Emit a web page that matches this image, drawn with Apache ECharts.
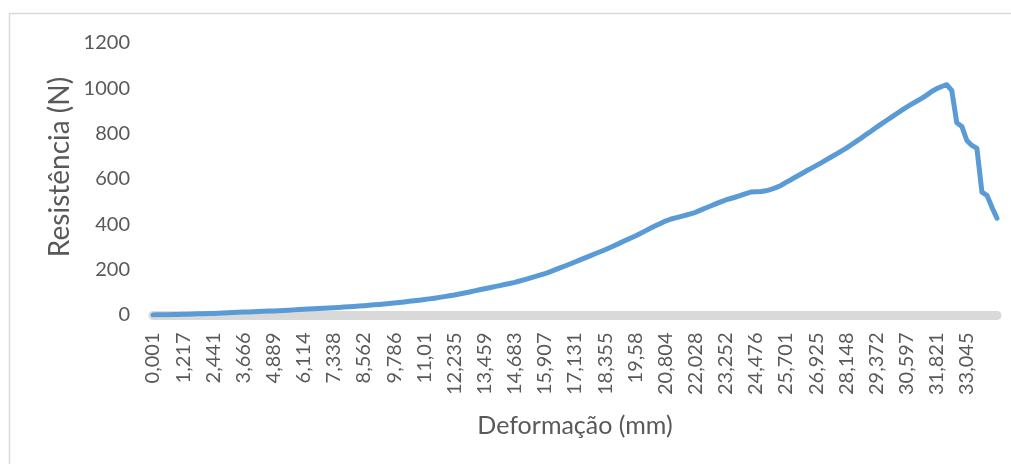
<!DOCTYPE html>
<html>
<head>
<meta charset="utf-8">
<script src="https://cdn.jsdelivr.net/npm/echarts@6/dist/echarts.min.js"></script>
<style>
  html, body { margin: 0; padding: 0; background: #ffffff; }
  #chart { width: 1011px; height: 464px; }
</style>
</head>
<body>
<div id="chart"></div>
<script>
// Deformação (mm) de cada leitura do ensaio
const deformacao = [
  '0,001','0,205','0,408','0,611','0,813','1,015','1,217','1,421','1,625','1,829',
  '2,033','2,237','2,441','2,645','2,849','3,054','3,258','3,462','3,666','3,869',
  '4,073','4,277','4,481','4,685','4,889','5,093','5,297','5,502','5,706','5,91',
  '6,114','6,318','6,522','6,726','6,93','7,134','7,338','7,542','7,746','7,95',
  '8,154','8,358','8,562','8,766','8,97','9,174','9,378','9,582','9,786','9,99',
  '10,194','10,398','10,602','10,806','11,01','11,214','11,418','11,623','11,827','12,031',
  '12,235','12,439','12,643','12,847','13,051','13,255','13,459','13,663','13,867','14,071',
  '14,275','14,479','14,683','14,887','15,091','15,295','15,499','15,703','15,907','16,111',
  '16,315','16,519','16,723','16,927','17,131','17,335','17,539','17,743','17,947','18,151',
  '18,355','18,559','18,763','18,968','19,172','19,376','19,58','19,784','19,988','20,192',
  '20,396','20,6','20,804','21,008','21,212','21,416','21,62','21,824','22,028','22,232',
  '22,436','22,64','22,844','23,048','23,252','23,456','23,66','23,864','24,068','24,272',
  '24,476','24,68','24,884','25,089','25,293','25,497','25,701','25,905','26,109','26,313',
  '26,517','26,721','26,925','27,129','27,333','27,536','27,74','27,944','28,148','28,352',
  '28,556','28,76','28,964','29,168','29,372','29,576','29,78','29,985','30,189','30,393',
  '30,597','30,801','31,005','31,209','31,413','31,617','31,821','32,025','32,229','32,433',
  '32,637','32,841','33,045','33,249','33,453','33,657','33,861','34,065','34,269'
];

// Resistência (N) medida em cada leitura
const resistencia = [
  0.5, 0.8, 1.2, 1.6, 2.1, 2.6, 3.2, 3.8, 4.4, 5.0,
  5.7, 6.4, 7.1, 8.0, 8.9, 9.9, 10.9, 11.9, 12.9, 13.7,
  14.6, 15.4, 16.3, 17.2, 18.1, 19.2, 20.3, 21.4, 22.6, 23.8,
  25.0, 26.1, 27.3, 28.4, 29.6, 30.9, 32.2, 33.6, 35.0, 36.5,
  38.0, 39.6, 41.2, 43.0, 44.9, 46.8, 48.8, 50.9, 53.0, 55.3,
  57.7, 60.2, 62.7, 65.3, 68.0, 71.1, 74.3, 77.7, 81.1, 84.6,
  88.2, 92.5, 97.0, 101.6, 106.3, 111.1, 116.0, 120.5, 125.1, 129.7,
  134.4, 139.2, 144.0, 150.0, 156.2, 162.5, 169.0, 175.5, 182.1, 190.5,
  199.0, 207.6, 216.3, 225.1, 234.0, 243.0, 252.0, 261.0, 270.0, 279.0,
  288.0, 298.0, 308.0, 318.2, 328.4, 338.7, 349.0, 360.0, 371.2, 382.4,
  393.4, 404.2, 414.5, 422.5, 428.8, 434.2, 440.0, 446.4, 453.0, 462.5,
  472.0, 481.0, 490.0, 499.0, 507.5, 514.0, 520.5, 527.5, 535.5, 542.5,
  544.0, 544.5, 548.0, 554.5, 562.0, 571.5, 585.0, 597.0, 610.0, 622.0,
  635.0, 647.0, 659.0, 671.0, 684.0, 697.0, 710.0, 723.0, 736.0, 751.0,
  766.0, 781.0, 797.0, 812.0, 828.0, 843.0, 858.0, 873.0, 888.0, 903.0,
  917.0, 930.0, 943.0, 956.0, 970.0, 986.0, 999.0, 1008.0, 1016.0, 990.0,
  848.0, 832.0, 770.0, 748.0, 735.0, 542.0, 528.0, 475.0, 427.0
];

// Rótulos exibidos no eixo horizontal
const rotulosEixoX = [
  '0,001','1,217','2,441','3,666','4,889','6,114','7,338','8,562','9,786','11,01',
  '12,235','13,459','14,683','15,907','17,131','18,355','19,58','20,804','22,028','23,252',
  '24,476','25,701','26,925','28,148','29,372','30,597','31,821','33,045'
];

// Escala do eixo vertical
const eixoY = { min: 0, max: 1200, passo: 200 };

const fonte = 'Lato, "Open Sans", sans-serif';
const cinzaTexto = '#595959';

const chart = echarts.init(document.getElementById('chart'), null, { renderer: 'canvas' });

chart.setOption({
  animation: false,
  backgroundColor: '#ffffff',
  grid: { left: 153, right: 14, top: 43, bottom: 149, containLabel: false },
  xAxis: {
    type: 'category',
    data: deformacao,
    boundaryGap: false,
    offset: 3.5,
    axisLine: { show: true, lineStyle: { color: '#d9d9d9', width: 9 } },
    axisTick: { show: false },
    splitLine: { show: false },
    axisLabel: {
      rotate: 90,
      margin: 14,
      color: cinzaTexto,
      fontFamily: fonte,
      fontSize: 20,
      interval: function (idx, valor) { return rotulosEixoX.indexOf(valor) !== -1; }
    }
  },
  yAxis: {
    type: 'value',
    min: eixoY.min,
    max: eixoY.max,
    interval: eixoY.passo,
    axisLine: { show: false },
    axisTick: { show: false },
    splitLine: { show: false },
    axisLabel: {
      margin: 23,
      color: cinzaTexto,
      fontFamily: fonte,
      fontSize: 20,
      formatter: function (v) { return String(v); }
    }
  },
  graphic: [
    {
      type: 'rect',
      silent: true,
      shape: { x: 9.5, y: 13.5, width: 1010, height: 460 },
      style: { fill: 'none', stroke: '#d9d9d9', lineWidth: 1.5 }
    },
    {
      type: 'text',
      silent: true,
      x: 60, y: 167,
      rotation: Math.PI / 2,
      style: {
        text: 'Resistência (N)',
        fill: cinzaTexto,
        font: '28px ' + fonte,
        align: 'center',
        verticalAlign: 'middle'
      }
    },
    {
      type: 'text',
      silent: true,
      x: 575, y: 426,
      style: {
        text: 'Deformação (mm)',
        fill: cinzaTexto,
        font: '25px ' + fonte,
        align: 'center',
        verticalAlign: 'middle'
      }
    }
  ],
  series: [
    {
      type: 'line',
      data: resistencia,
      showSymbol: false,
      smooth: false,
      silent: true,
      lineStyle: { color: '#5b9bd5', width: 5, cap: 'round', join: 'round' }
    }
  ]
});
</script>
</body>
</html>
